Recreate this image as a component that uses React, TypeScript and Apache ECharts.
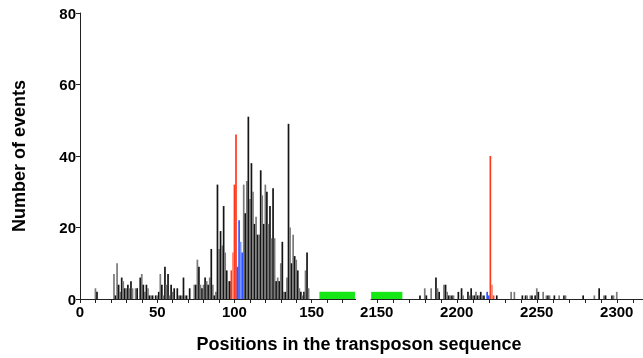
import React, { useEffect, useRef } from "react";
import * as echarts from "echarts";

// ---- data ----
// left segment: event counts per position (index = position, 0..148)
const leftCounts: number[] = [
  0, 0, 0, 0, 0, 0, 0, 0, 0, 0,
  3, 2, 0, 0, 0, 0, 0, 0, 0, 0,
  0, 0, 7, 1, 10, 4, 2, 6, 5, 3,
  3, 4, 3, 5, 3, 0, 3, 3, 0, 6,
  7, 4, 2, 4, 3, 1, 1, 1, 0, 1,
  1, 2, 7, 4, 1, 9, 4, 7, 1, 4,
  2, 3, 0, 3, 1, 1, 1, 6, 1, 1,
  0, 3, 0, 0, 4, 4, 11, 9, 4, 3,
  4, 6, 5, 4, 6, 14, 4, 1, 2, 32,
  14, 19, 15, 26, 13, 8, 5, 5, 0, 0,
  0, 0, 0, 0, 0, 0, 32, 24, 33, 51,
  28, 38, 30, 21, 23, 18, 18, 36, 29, 21,
  32, 30, 21, 26, 17, 31, 17, 5, 6, 5,
  10, 16, 2, 2, 6, 49, 20, 10, 18, 12,
  11, 8, 3, 2, 1, 2, 8, 13, 3,
];
// highlighted positions in the left segment
const leftRedPositions = [98, 99, 100, 101];
const leftRedCounts = [8, 13, 32, 46];
const leftBluePositions = [102, 103, 104, 105];
const leftBlueCounts = [9, 22, 16, 13];

// right segment
const rightPositions = [
  2177, 2180, 2181, 2184, 2187, 2188, 2189, 2192, 2193, 2194, 2195, 2196, 2197, 2198,
  2201, 2203, 2204, 2207, 2208, 2209, 2210, 2211, 2212, 2213, 2214, 2215, 2216, 2217,
  2225, 2234, 2236, 2241, 2243, 2244, 2246, 2247, 2249, 2250, 2251, 2254, 2256, 2257,
  2258, 2261, 2264, 2267, 2268, 2279, 2286, 2289, 2292, 2293, 2297, 2298, 2300,
];
const rightCounts = [
  1, 3, 1, 3, 6, 3, 2, 4, 4, 2, 1, 1, 1, 1,
  2, 3, 1, 2, 1, 3, 1, 1, 2, 1, 1, 2, 1, 1,
  1, 2, 2, 1, 1, 1, 1, 1, 1, 3, 2, 2, 1, 1,
  1, 1, 1, 1, 1, 1, 1, 3, 1, 1, 1, 1, 2,
];
const rightRedPositions = [2221, 2222, 2223];
const rightRedCounts = [40, 4, 1];
const rightBluePositions = [2219, 2220];
const rightBlueCounts = [2, 1];

// green regions [start, end], height
const greenLeft = [155, 178];
const greenRight = [2146.5, 2166];
const greenHeight = 2;

// axis ticks / labels
const leftTicks = [0, 10, 20, 30, 40, 50, 60, 70, 80, 90, 100, 110, 120, 130, 140, 150, 160, 170];
const leftLabels = [0, 50, 100, 150];
const rightTicks = [2150, 2160, 2170, 2180, 2190, 2200, 2210, 2220, 2230, 2240, 2250, 2260, 2270, 2280, 2290, 2300, 2310];
const rightLabels = [2150, 2200, 2250, 2300];
const yTicks = [0, 20, 40, 60, 80];

const FONT = "'Liberation Sans', Arial, sans-serif";
const GRAY = "#7a7a7a";
const DARK = "#151515";
const RED = "#ff3a1c";
const LIGHT_RED = "#ff8a74";
const BLUE = "#2f55ff";
const LIGHT_BLUE = "#7b93ff";

export default function App() {
  const ref = useRef<HTMLDivElement>(null);
  useEffect(() => {
    if (!ref.current) return;
    const chart = echarts.init(ref.current, null, { renderer: "svg" });

    const leftData: any[] = [];
    leftCounts.forEach((v, p) => {
      if (v > 0) leftData.push({ value: [p, v], itemStyle: { color: p % 2 === 1 ? DARK : GRAY } });
    });
    leftRedPositions.forEach((p, i) =>
      leftData.push({ value: [p, leftRedCounts[i]], itemStyle: { color: i === 1 ? LIGHT_RED : RED } })
    );
    leftBluePositions.forEach((p, i) =>
      leftData.push({ value: [p, leftBlueCounts[i]], itemStyle: { color: i === 2 ? LIGHT_BLUE : BLUE } })
    );

    const rightData: any[] = [];
    rightPositions.forEach((p, i) =>
      rightData.push({ value: [p, rightCounts[i]], itemStyle: { color: p % 2 === 1 ? DARK : GRAY } })
    );
    rightRedPositions.forEach((p, i) =>
      rightData.push({ value: [p, rightRedCounts[i]], itemStyle: { color: i === 1 ? LIGHT_RED : RED } })
    );
    rightBluePositions.forEach((p, i) =>
      rightData.push({ value: [p, rightBlueCounts[i]], itemStyle: { color: BLUE } })
    );

    const axisLine = { show: true, onZero: false, lineStyle: { color: "#222", width: 1 } };
    const labelStyle = { fontFamily: FONT, fontWeight: "bold" as const, fontSize: 15, color: "#000" };

    const xAxisCommon = (min: number, max: number, ticks: number[], labels: number[], gridIndex: number) => ({
      type: "value",
      gridIndex,
      min,
      max,
      axisLine,
      splitLine: { show: false },
      axisTick: { show: true, length: 4, inside: false, customValues: ticks, lineStyle: { color: "#222" } },
      axisLabel: {
        ...labelStyle,
        margin: 5,
        customValues: labels,
        showMinLabel: true,
        showMaxLabel: true,
        formatter: (v: number) => String(v),
      },
    });

    const green = (r: number[]) => ({
      silent: true,
      itemStyle: { color: "#16e816", opacity: 1 },
      data: [[{ coord: [r[0], 0] }, { coord: [r[1], greenHeight] }]],
    });

    chart.setOption({
      animation: false,
      grid: [
        { left: 80, top: 13, width: 275.7, height: 286, containLabel: false },
        { left: 371, top: 13, width: 272, height: 286, containLabel: false },
      ],
      xAxis: [
        xAxisCommon(0, 178.5, leftTicks, leftLabels, 0),
        xAxisCommon(2146.4, 2316.4, rightTicks, rightLabels, 1),
      ],
      yAxis: [
        {
          type: "value",
          gridIndex: 0,
          min: 0,
          max: 80,
          interval: 20,
          axisLine,
          splitLine: { show: false },
          axisTick: { show: true, length: 4, customValues: yTicks, lineStyle: { color: "#222" } },
          axisLabel: { ...labelStyle, margin: 4 },
          name: "Number of events",
          nameLocation: "middle",
          nameRotate: 90,
          nameGap: 52,
          nameTextStyle: { fontFamily: FONT, fontWeight: "bold", fontSize: 18, color: "#000" },
        },
        { type: "value", gridIndex: 1, min: 0, max: 80, show: false },
      ],
      series: [
        {
          type: "bar",
          xAxisIndex: 0,
          yAxisIndex: 0,
          barWidth: 1.7,
          data: leftData,
          markArea: green(greenLeft),
        },
        {
          type: "bar",
          xAxisIndex: 1,
          yAxisIndex: 1,
          barWidth: 1.7,
          data: rightData,
          markArea: green(greenRight),
        },
      ],
      graphic: [
        {
          type: "text",
          x: 359,
          y: 344,
          style: {
            text: "Positions in the transposon sequence",
            fontFamily: FONT,
            fontWeight: "bold",
            fontSize: 18,
            fill: "#000",
            align: "center",
            verticalAlign: "middle",
          },
        },
      ],
    });
    return () => chart.dispose();
  }, []);
  return <div ref={ref} style={{ position: "fixed", left: 0, top: 0, width: 643, height: 358 }} />;
}
